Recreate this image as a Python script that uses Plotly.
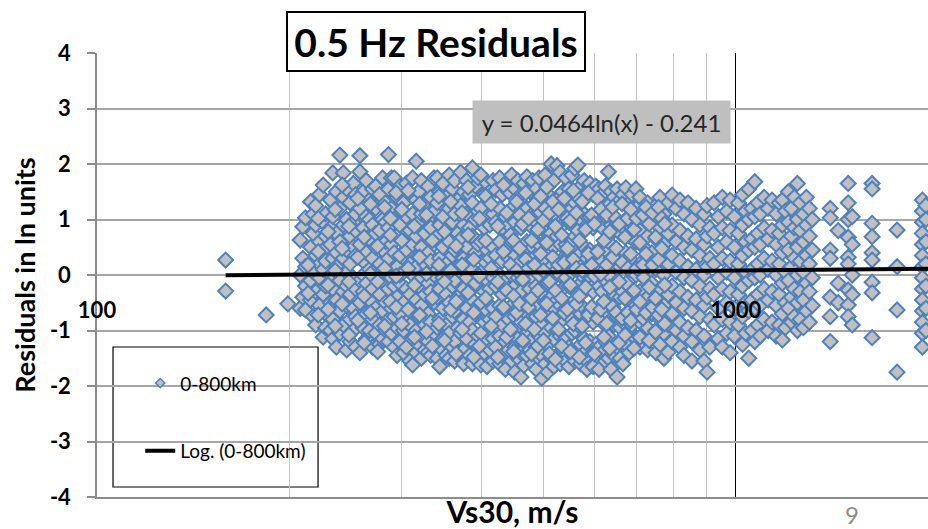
import math
import plotly.graph_objects as go

# ---------------- data ----------------
# Each station has one Vs30 value and a set of residuals (one per record)
station_vs30 = [
    159, 184, 199, 208, 210, 212,
    216, 218, 220, 223, 226, 228,
    232, 234, 237, 240, 243, 246,
    249, 252, 254, 258, 261, 264,
    267, 270, 273, 277, 280, 283,
    286, 289, 292, 295, 298, 302,
    305, 309, 312, 316, 319, 322,
    326, 330, 333, 337, 341, 344,
    348, 352, 356, 360, 363, 367,
    371, 375, 379, 383, 387, 391,
    395, 399, 404, 408, 412, 417,
    421, 427, 431, 436, 441, 446,
    451, 456, 461, 466, 471, 476,
    481, 487, 492, 497, 503, 508,
    514, 519, 525, 531, 536, 542,
    548, 554, 560, 566, 572, 579,
    585, 591, 598, 604, 611, 618,
    625, 632, 638, 645, 652, 659,
    666, 673, 681, 688, 698, 708,
    718, 728, 739, 750, 761, 772,
    784, 795, 807, 818, 830, 842,
    854, 867, 879, 892, 902, 911,
    925, 939, 953, 968, 980, 995,
    1010, 1025, 1036, 1048, 1060, 1071,
    1083, 1092, 1108, 1124, 1140, 1157,
    1170, 1183, 1196, 1209, 1222, 1235,
    1249, 1262, 1276, 1290, 1304, 1318,
    1406, 1447, 1500, 1522, 1635, 1789,
    1960, 1985,
]

station_resid = [
    [0.27, -0.29], [-0.72], [-0.52], [-0.6, 0.0, 0.63], [0.87, -0.4, 0.3], [1.03, -0.63, 0.15, -0.2],
    [1.32, 0.5, -0.1, -0.45], [0.75, 0.05, -0.75, 1.1], [1.25, 0.35, -0.3, -0.9, 0.9], [0.6, -0.05, -0.55, 1.45, 0.2], [1.62, 0.95, 0.1, -0.35, -1.12, 0.45], [1.1, 0.7, -0.2, -0.7, 0.25, -0.95],
    [1.35, 0.55, 0.0, -0.5, -1.0, 0.85], [1.84, 0.3, -0.25, -0.8, 1.05, -1.15], [1.5, 0.75, 0.15, -0.45, -1.3, 0.4], [2.16, 1.2, 0.6, -0.1, -0.65, -1.05], [1.84, 0.9, 0.3, -0.3, -0.9, 1.4], [1.55, 1.0, 0.45, 0.05, -0.55, -1.35, -0.2],
    [1.3, 0.7, 0.2, -0.35, -0.8, -1.2], [1.65, 0.95, -0.05, -0.6, 0.5, -1.0], [1.1, 0.35, -0.25, -0.75, -1.3, 0.8, 1.45], [2.15, 1.86, 1.2, 0.55, -0.1, -0.5, -1.4], [1.5, 0.85, 0.25, -0.3, -0.95, 0.0], [1.7, 1.05, 0.4, -0.15, -0.7, -1.15],
    [1.35, 0.65, 0.1, -0.45, -1.0, 1.0], [1.55, 0.9, 0.3, -0.25, -0.8, -1.3], [1.2, 0.5, -0.05, -0.6, -1.05, 0.75, 1.6], [1.45, 0.8, 0.2, -0.35, -0.9, -1.25], [1.75, 1.0, 0.45, -0.1, -0.65, -1.15], [1.3, 0.6, 0.05, -0.5, -1.0, 0.95],
    [2.17, 1.55, 0.85, 0.3, -0.25, -0.8, -1.2], [1.2, 0.55, -0.05, -0.6, -1.05, 1.75], [1.75, 1.0, 0.4, -0.2, -0.75, -1.3], [1.4, 0.7, 0.15, -0.4, -0.95, -1.45], [1.6, 0.9, 0.35, -0.15, -0.7, -1.2, 0.0], [1.3, 0.6, 0.05, -0.5, -1.0, -1.4],
    [1.65, 1.05, 0.45, -0.25, -0.85, -1.3], [1.45, 0.8, 0.2, -0.35, -0.9, -1.55], [1.75, 1.1, 0.55, 0.0, -0.6, -1.15, -1.62], [2.05, 1.35, 0.7, 0.15, -0.45, -1.0, -1.4], [1.5, 0.95, 0.35, -0.2, -0.75, -1.25], [1.7, 1.1, 0.5, -0.05, -0.55, -1.1, -1.5],
    [1.3, 0.75, 0.2, -0.35, -0.9, -1.35], [1.6, 1.0, 0.4, -0.15, -0.7, -1.2, -1.39], [1.4, 0.85, 0.25, -0.3, -0.85, -1.45], [1.75, 1.15, 0.55, 0.0, -0.5, -1.05], [1.75, 1.3, 0.7, 0.1, -0.4, -0.95, -1.5], [1.5, 0.9, 0.3, -0.25, -0.8, -1.3, -1.65],
    [1.65, 1.05, 0.5, -0.05, -0.6, -1.15], [1.4, 0.8, 0.2, -0.35, -0.9, -1.45], [1.8, 1.2, 0.6, 0.05, -0.5, -1.05, -1.5], [1.55, 0.95, 0.35, -0.2, -0.75, -1.3], [1.7, 1.1, 0.45, -0.1, -0.65, -1.2, -1.55], [1.35, 0.75, 0.15, -0.4, -0.95, -1.4],
    [1.85, 1.25, 0.65, 0.05, -0.5, -1.05], [1.5, 0.9, 0.3, -0.25, -0.8, -1.35, -1.6], [1.7, 1.1, 0.5, -0.05, -0.6, -1.15], [1.45, 0.85, 0.25, -0.3, -0.85, -1.45], [1.93, 1.3, 0.7, 0.1, -0.45, -1.0, -1.6], [1.6, 1.0, 0.4, -0.15, -0.7, -1.25],
    [1.75, 1.15, 0.55, 0.0, -0.55, -1.1, -1.5], [1.8, 1.2, 0.6, 0.05, -0.5, -1.05, -1.62], [1.45, 0.85, 0.25, -0.3, -0.85, -1.4], [1.65, 1.05, 0.45, -0.1, -0.65, -1.2, -1.65], [1.5, 0.9, 0.3, -0.25, -0.8, -1.35], [1.7, 1.1, 0.5, -0.05, -0.6, -1.15, -1.55],
    [1.53, 0.95, 0.35, -0.2, -0.75, -1.3], [1.75, 1.2, 0.6, 0.0, -0.55, -1.1, -1.6], [1.45, 0.85, 0.25, -0.35, -0.9, -1.45], [1.65, 1.05, 0.45, -0.1, -0.65, -1.2, -1.7], [1.5, 0.9, 0.3, -0.25, -0.8, -1.35], [1.8, 1.2, 0.6, 0.0, -0.55, -1.1, -1.55],
    [1.55, 0.95, 0.35, -0.2, -0.75, -1.3, -1.75], [1.7, 1.1, 0.5, -0.05, -0.6, -1.15, -1.5], [1.45, 0.85, 0.25, -0.3, -0.85, -1.4, -1.84], [1.65, 1.05, 0.45, -0.1, -0.65, -1.2, -1.63], [1.77, 1.2, 0.6, 0.05, -0.5, -1.05, -1.45], [1.5, 0.9, 0.3, -0.25, -0.8, -1.35],
    [1.7, 1.1, 0.5, -0.05, -0.6, -1.15, -1.6], [1.55, 0.95, 0.35, -0.2, -0.75, -1.3, -1.7], [1.75, 1.15, 0.55, 0.0, -0.55, -1.1, -1.5], [1.45, 0.85, 0.25, -0.35, -0.9, -1.45, -1.86], [1.8, 1.2, 0.6, 0.05, -0.5, -1.05, -1.6], [1.6, 1.0, 0.4, -0.15, -0.7, -1.25, -1.75],
    [2.0, 1.4, 0.75, 0.15, -0.4, -0.95, -1.5], [1.7, 1.1, 0.5, -0.05, -0.6, -1.15, -1.65], [1.97, 1.35, 0.7, 0.1, -0.45, -1.0, -1.45], [1.85, 1.2, 0.55, 0.0, -0.55, -1.1, -1.6], [1.5, 0.9, 0.3, -0.25, -0.8, -1.35], [1.75, 1.15, 0.55, -0.05, -0.6, -1.15, -1.55],
    [1.55, 0.95, 0.35, -0.2, -0.75, -1.3, -1.65], [1.8, 1.2, 0.6, 0.05, -0.5, -1.05, -1.45], [1.92, 1.3, 0.7, 0.1, -0.45, -1.0, -1.55], [1.98, 1.4, 0.8, 0.2, -0.35, -0.9, -1.4], [1.6, 1.0, 0.4, -0.15, -0.7, -1.25, -1.6], [1.7, 1.1, 0.5, -0.05, -0.6, -1.15, -1.5],
    [1.5, 0.9, 0.3, -0.25, -0.8, -1.35, -1.7], [1.65, 1.05, 0.45, -0.1, -0.65, -1.2], [1.45, 0.85, 0.25, -0.3, -0.85, -1.4, -1.65], [1.6, 1.0, 0.4, -0.15, -0.7, -1.25], [1.55, 0.95, 0.35, -0.2, -0.75, -1.3, -1.7], [1.45, 0.85, 0.25, -0.3, -0.85, -1.4],
    [1.6, 1.05, 0.45, -0.1, -0.65, -1.2, -1.55], [1.86, 1.25, 0.6, 0.0, -0.55, -1.1, -1.5], [1.5, 0.9, 0.3, -0.25, -0.8, -1.35, -1.7], [1.4, 0.8, 0.2, -0.35, -0.9, -1.45], [1.55, 0.95, 0.35, -0.2, -0.75, -1.3, -1.84], [1.35, 0.75, 0.15, -0.4, -0.95, -1.5],
    [1.45, 0.85, 0.25, -0.3, -0.85, -1.6], [1.57, 1.0, 0.4, -0.15, -0.7, -1.25], [1.3, 0.7, 0.1, -0.45, -1.0, -1.4], [1.45, 0.85, 0.25, -0.35, -0.9], [1.2, 0.6, 0.0, -0.55, -1.15, 1.55], [1.4, 0.8, 0.2, -0.3, -0.85, -1.3],
    [1.1, 0.5, -0.05, -0.6, -1.1], [1.3, 0.7, 0.15, -0.4, -0.95, -1.35], [1.0, 0.4, -0.15, -0.7, -1.2], [1.25, 0.65, 0.1, -0.45, -1.0, -1.4], [1.4, 0.85, 0.3, -0.25, -0.8, -1.25], [1.1, 0.55, 0.0, -0.55, -1.05, -1.5],
    [1.3, 0.75, 0.2, -0.35, -0.9, -1.39], [1.44, 0.9, 0.35, -0.2, -0.7, -1.2], [1.2, 0.6, 0.05, -0.5, -1.0], [1.35, 0.8, 0.25, -0.3, -0.85, -1.3], [1.1, 0.5, -0.05, -0.6, -1.1, -1.45], [1.3, 0.7, 0.15, -0.4, -0.95],
    [1.0, 0.45, -0.1, -0.65, -1.2, -1.55], [1.2, 0.65, 0.1, -0.45, -1.0], [0.9, 0.35, -0.2, -0.75, -1.35], [1.1, 0.55, 0.0, -0.55, -1.1, -1.55], [1.25, 0.7, 0.15, -0.4, -1.75], [0.85, 0.3, -0.25, -0.8, -1.3],
    [1.3, 0.75, 0.2, -0.35, -0.9], [1.05, 0.5, -0.05, -0.6, -1.15], [1.4, 0.85, 0.3, -0.25, -0.8, -1.3], [1.15, 0.6, 0.05, -0.5, -1.05], [1.35, 0.8, 0.25, -0.3, -0.85, -1.4], [1.05, 0.5, -0.05, -0.6, -1.1],
    [1.3, 0.75, 0.2, -0.35, -0.9], [1.45, 0.9, 0.35, -0.2, -0.75, -1.25], [1.15, 0.6, 0.05, -0.5, -1.05], [1.55, 1.0, 0.45, -0.1, -0.65, -1.5], [1.2, 0.65, 0.1, -0.45, -1.0], [1.68, 1.05, 0.5, -0.05, -0.6, -1.2],
    [1.3, 0.75, 0.2, -0.35, -0.9], [1.1, 0.55, 0.0, -0.55, -1.1], [1.4, 0.85, 0.3, -0.25, -0.8], [1.2, 0.65, 0.1, -0.45, -1.0], [1.35, 0.8, 0.25, -0.3, -0.85], [1.1, 0.55, 0.0, -0.55, -1.1],
    [1.3, 0.75, 0.2, -0.35, -0.9], [1.35, 0.9, 0.4, -0.15, -0.7, -1.17], [1.15, 0.6, 0.05, -0.5, -0.95], [1.5, 0.95, 0.45, -0.1, -0.6], [1.2, 0.7, 0.15, -0.4, -0.85], [1.4, 0.85, 0.3, -0.25, -0.75],
    [1.65, 1.0, 0.5, 0.0, -0.5, -1.0], [1.3, 0.8, 0.25, -0.3, -0.8], [1.1, 0.6, 0.05, -0.45, -0.95], [1.4, 0.9, 0.35, -0.15, -0.65], [1.2, 0.7, 0.2, -0.3, -0.85], [1.0, 0.45, -0.05, -0.55],
    [1.2, 1.03, 0.45, 0.3, -0.4, -0.75, -1.2], [0.8, -0.15, -0.5], [1.65, 1.3, 1.0, 0.68, 0.32, 0.2, -0.27, -0.54, -0.75], [1.05, 0.55, 0.0, -0.35, -0.9], [1.65, 1.55, 0.93, 0.69, 0.4, 0.27, -0.13, -0.32, -1.13], [0.81, 0.15, -0.63, -1.75],
    [1.35, 1.15, 0.95, 0.75, 0.55, 0.35, 0.15, -0.05, -0.25, -0.45, -0.65, -0.85, -1.05, -1.3], [1.25, 1.0, 0.6, 0.2, -0.2, -0.6, -1.0],
]

# second set of stations, interleaved with the first
station_vs30_b = [
    214, 222, 230, 236, 242, 248, 256, 262, 268, 275,
    282, 288, 294, 300, 307, 314, 320, 328, 335, 343,
    350, 358, 365, 373, 381, 389, 397, 406, 414, 424,
    433, 438, 444, 449, 454, 459, 464, 469, 474, 479,
    484, 490, 495, 500, 506, 511, 517, 522, 528, 534,
    539, 545, 551, 557, 563, 569, 575, 582, 588, 595,
    601, 608, 615, 622, 628, 635, 642, 650, 657, 664,
    671, 678, 685, 693, 700, 708, 716, 724, 732, 741,
    749, 757, 766, 774,
]

station_resid_b = [
    [0.18, -0.33], [0.42, -0.72, 1.02], [-0.18, 0.78, -0.62], [0.08, 1.18, -0.92], [0.48, -0.52, 1.62], [-0.12, 0.88, -1.08], [0.32, -0.82, 1.38], [0.68, -0.38, -1.22], [0.02, 1.28, -0.68], [0.52, -0.12, -1.38],
    [1.22, 0.12, -0.92], [0.72, -0.48, 1.02], [-0.02, 1.48, -0.58], [0.62, -0.88, 1.18], [0.12, -0.62, 1.52], [0.88, -0.18, -1.12], [0.32, -0.72, 1.28], [1.08, 0.02, -1.02], [0.62, -0.42, -1.28], [0.18, 1.42, -0.88],
    [0.78, -0.12, -1.18], [1.32, 0.08, -0.62], [0.52, -0.48, -1.42], [1.12, 0.18, -0.98], [0.72, -0.32, 1.58], [0.28, -0.68, -1.48], [1.02, -0.02, -1.28], [0.62, -0.42, 1.42], [0.12, -0.92, 1.28], [0.88, -0.12, -1.48],
    [0.42, -0.58, 1.62], [1.12, -0.28, -1.12], [0.18, 0.72, -0.98], [0.62, -0.38, -1.38], [1.32, 0.08, -0.68], [0.48, -0.52, 1.08], [0.92, -0.08, -1.18], [0.28, -0.88, 1.48], [1.02, 0.12, -0.58], [0.62, -0.42, -1.42],
    [0.18, 1.28, -0.98], [0.82, -0.28, -1.28], [1.42, 0.38, -0.72], [0.08, 0.98, -1.18], [0.58, -0.52, 1.58], [1.12, -0.12, -1.42], [0.32, -0.78, 1.32], [0.88, -0.28, -1.52], [0.18, 1.18, -0.98], [0.72, -0.42, -1.28],
    [1.38, 0.22, -0.68], [0.48, -0.62, 1.02], [0.98, -0.18, -1.38], [0.28, -0.88, 1.52], [1.12, 0.12, -0.52], [0.62, -0.38, -1.48], [0.08, 1.32, -0.92], [0.82, -0.22, -1.22], [1.48, 0.38, -0.72], [0.18, -0.58, 1.08],
    [0.92, -0.02, -1.42], [0.42, -0.78, 1.38], [1.18, 0.02, -0.62], [0.62, -0.48, -1.12], [0.18, 1.08, -0.88], [0.78, -0.22, -1.32], [1.22, 0.32, -0.58], [0.48, -0.68, 1.02], [0.92, -0.12, -1.22], [0.22, 1.28, -0.78],
    [0.68, -0.42, -1.08], [1.02, 0.12, -0.68], [0.38, -0.82, 1.18], [0.82, -0.28, -1.32], [0.12, 1.02, -0.62], [0.58, -0.48, -1.12], [1.08, 0.18, -0.78], [0.38, -0.68, 1.22], [0.92, -0.22, -1.18], [0.18, 1.12, -0.58],
    [0.68, -0.42, -1.02], [1.22, 0.28, -0.72], [0.48, -0.62, 1.02], [0.92, -0.18, -0.88],
]

# logarithmic trendline shown on the chart: y = a*ln(x) + b
trend_a = 0.0464
trend_b = -0.241
trend_label = "y = 0.0464ln(x) - 0.241"

x_ticks = [100, 1000]
x_minor = [200, 300, 400, 500, 600, 700, 800, 900, 2000]
y_ticks = [-4, -3, -2, -1, 0, 1, 2, 3, 4]
x_max = 2000

assert len(station_vs30) == len(station_resid)
assert len(station_vs30_b) == len(station_resid_b)
vs30, resid = [], []
for vs_list, r_list in ((station_vs30, station_resid), (station_vs30_b, station_resid_b)):
    for v, rs in zip(vs_list, r_list):
        for r in rs:
            vs30.append(v)
            resid.append(r)

trend_x = [min(vs30), x_max]
trend_y = [trend_a * math.log(v) + trend_b for v in trend_x]

FONT = "Lato"
fig = go.Figure()

fig.add_trace(go.Scatter(
    x=vs30, y=resid, mode="markers", showlegend=False,
    marker=dict(symbol="diamond", size=11.5, color="#C0C0C0",
                line=dict(color="#4F81BD", width=2)),
))
# legend entry for the markers (smaller symbol, as in the original legend)
fig.add_trace(go.Scatter(
    x=[None], y=[None], mode="markers", name="0-800km", legendgroup="a",
    marker=dict(symbol="diamond", size=7, color="#C0C0C0",
                line=dict(color="#4F81BD", width=1.5)),
))
fig.add_trace(go.Scatter(
    x=trend_x, y=trend_y, mode="lines", name="Log. (0-800km)", legendgroup="b",
    xaxis="x2", line=dict(color="black", width=4),
))

xr = [math.log10(x_ticks[0]), math.log10(x_max)]

fig.update_layout(
    width=928, height=529,
    margin=dict(l=97, r=0, t=53, b=32),
    paper_bgcolor="white", plot_bgcolor="white",
    font=dict(family=FONT, color="black"),
    xaxis=dict(
        type="log", range=xr, tickvals=x_ticks, showticklabels=False, ticks="",
        showgrid=True, gridcolor="black", gridwidth=1,
        minor=dict(tickvals=x_minor, showgrid=True, gridcolor="#C4C4C4", gridwidth=1.3, ticks=""),
        showline=True, linecolor="#8C8C8C", linewidth=1.5, zeroline=False,
        title=dict(text="Vs30, m/s", font=dict(family=FONT, size=30, weight="bold"), standoff=7),
    ),
    xaxis2=dict(
        type="log", range=xr, overlaying="x", anchor="free", position=0.5, side="bottom",
        tickvals=x_ticks, ticktext=[str(t) for t in x_ticks], ticks="",
        tickfont=dict(family=FONT, size=22, weight="bold"), ticklabelstandoff=20,
        showgrid=False, showline=False, zeroline=False,
    ),
    yaxis=dict(
        range=[-4, 4], tickvals=y_ticks, ticktext=[str(t) for t in y_ticks],
        ticks="outside", ticklen=8, tickwidth=1.5, tickcolor="#8C8C8C",
        tickfont=dict(family=FONT, size=22, weight="bold"), ticklabelstandoff=12,
        showline=True, linecolor="#8C8C8C", linewidth=1.5,
        showgrid=True, gridcolor="#A6A6A6", gridwidth=1.5, zeroline=False,
        title=dict(text="Residuals in ln units", font=dict(family=FONT, size=27, weight="bold"), standoff=6),
    ),
    legend=dict(
        x=0.052, y=0.299, xanchor="left", yanchor="top",
        bgcolor="rgba(0,0,0,0)", borderwidth=0,
        font=dict(family=FONT, size=19, color="black"),
        traceorder="grouped", tracegroupgap=40,
    ),
    shapes=[dict(
        type="rect", xref="paper", yref="paper", layer="between",
        x0=0.0193, x1=0.266, y0=0.0225, y1=0.3378,
        fillcolor="white", line=dict(color="black", width=1.2),
    )],
    annotations=[
        dict(text="0.5 Hz Residuals", xref="paper", yref="paper", x=0.408, y=1.027,
             xanchor="center", yanchor="middle",
             showarrow=False, font=dict(family=FONT, size=39, weight="bold", color="black"),
             bgcolor="white", bordercolor="black", borderwidth=2, borderpad=0,
             width=296, height=57),
        dict(text=trend_label, xref="paper", yref="paper", x=0.6065, y=0.8446,
             xanchor="center", yanchor="middle",
             showarrow=False, font=dict(family=FONT, size=24, color="#262626"),
             bgcolor="#BFBFBF", borderpad=0, width=257, height=42),
        dict(text="9", xref="paper", yref="paper", x=0.9085, y=-0.0405,
             xanchor="center", yanchor="middle",
             showarrow=False, font=dict(family=FONT, size=24, color="#8C8C8C")),
    ],
)

fig.write_html("out.html", config={"displayModeBar": False},
               post_script="document.body.style.margin='0';")
